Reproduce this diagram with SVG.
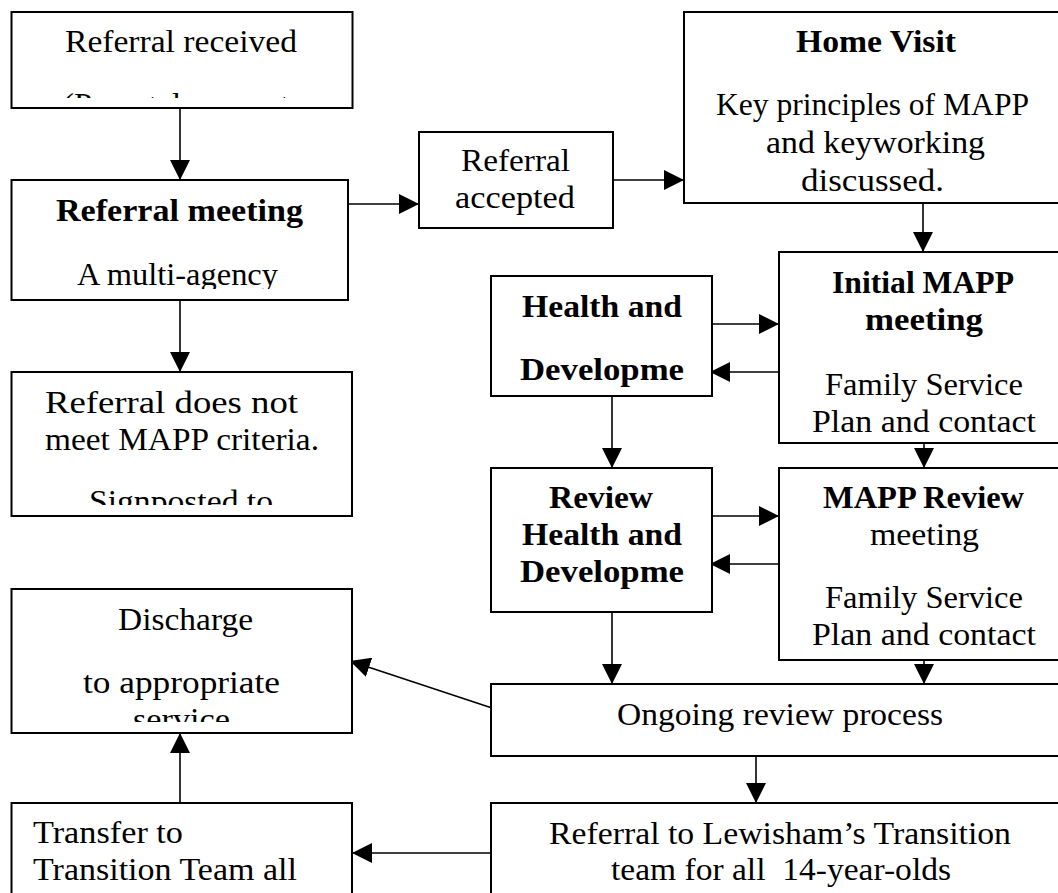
<svg xmlns="http://www.w3.org/2000/svg" width="1058" height="893" viewBox="0 0 1058 893">
<style>
.box{fill:#fff;stroke:#000;stroke-width:2}
.t{font-family:"Liberation Serif","Times New Roman",serif;font-size:31px;fill:#000}
.b{font-weight:bold}
.c{stroke:#000;stroke-width:1.6;fill:none;marker-end:url(#ah)}
</style>
<defs>
<marker id="ah" markerUnits="userSpaceOnUse" markerWidth="20" markerHeight="20" refX="20" refY="10" orient="auto">
<path d="M0,0 L20,10 L0,20 z" fill="#000"/>
</marker>
<clipPath id="c1"><rect x="12" y="12" width="340" height="86"/></clipPath>
<clipPath id="c2"><rect x="12" y="180" width="336" height="109"/></clipPath>
<clipPath id="c3"><rect x="12" y="372" width="340" height="133"/></clipPath>
<clipPath id="c4"><rect x="12" y="589" width="340" height="133"/></clipPath>
</defs>
<g id="connectors">
<line class="c" x1="180" y1="108" x2="180" y2="180"/>
<line class="c" x1="180" y1="300" x2="180" y2="372"/>
<line class="c" x1="348" y1="204" x2="419" y2="204"/>
<line class="c" x1="613" y1="180" x2="684" y2="180"/>
<line class="c" x1="923" y1="203" x2="923" y2="252"/>
<line class="c" x1="708" y1="324" x2="779" y2="324"/>
<line class="c" x1="779" y1="372" x2="710" y2="372"/>
<line class="c" x1="612" y1="396" x2="612" y2="468"/>
<line class="c" x1="924" y1="443" x2="924" y2="468"/>
<line class="c" x1="708" y1="516" x2="779" y2="516"/>
<line class="c" x1="779" y1="564" x2="710" y2="564"/>
<line class="c" x1="612" y1="612" x2="612" y2="684"/>
<line class="c" x1="924" y1="660" x2="924" y2="684"/>
<line class="c" x1="492" y1="708" x2="350" y2="661"/>
<line class="c" x1="756" y1="756" x2="756" y2="803"/>
<line class="c" x1="491" y1="853" x2="352" y2="853"/>
<line class="c" x1="180" y1="803" x2="180" y2="733"/>
</g>
<g id="referral-received">
<rect class="box" x="11.5" y="12" width="341" height="96"/>
<text class="t" x="65" y="52" textLength="232" lengthAdjust="spacingAndGlyphs">Referral received</text>
<text class="t" x="63" y="115" textLength="226" lengthAdjust="spacingAndGlyphs" clip-path="url(#c1)">(Parental consent</text>
</g>
<g id="referral-meeting">
<rect class="box" x="11.5" y="180" width="336.5" height="120"/>
<text class="t b" x="56" y="221" textLength="247" lengthAdjust="spacingAndGlyphs">Referral meeting</text>
<text class="t" x="77" y="285" textLength="201" lengthAdjust="spacingAndGlyphs" clip-path="url(#c2)">A multi-agency</text>
</g>
<g id="not-meet">
<rect class="box" x="11.5" y="372" width="340.5" height="144"/>
<text class="t" x="45" y="413" textLength="253" lengthAdjust="spacingAndGlyphs">Referral does not</text>
<text class="t" x="45" y="450" textLength="274" lengthAdjust="spacingAndGlyphs">meet MAPP criteria.</text>
<text class="t" x="89" y="512" textLength="184" lengthAdjust="spacingAndGlyphs" clip-path="url(#c3)">Signposted to</text>
</g>
<g id="referral-accepted">
<rect class="box" x="419" y="132" width="194" height="96"/>
<text class="t" x="461" y="171" textLength="109" lengthAdjust="spacingAndGlyphs">Referral</text>
<text class="t" x="455" y="208" textLength="120" lengthAdjust="spacingAndGlyphs">accepted</text>
</g>
<g id="home-visit">
<rect class="box" x="684" y="12" width="386" height="191"/>
<text class="t b" x="796" y="52" textLength="160" lengthAdjust="spacingAndGlyphs">Home Visit</text>
<text class="t" x="716" y="115" textLength="313" lengthAdjust="spacingAndGlyphs">Key principles of MAPP</text>
<text class="t" x="766" y="153" textLength="219" lengthAdjust="spacingAndGlyphs">and keyworking</text>
<text class="t" x="801" y="191" textLength="143" lengthAdjust="spacingAndGlyphs">discussed.</text>
</g>
<g id="health-dev">
<rect class="box" x="491" y="276" width="221" height="120"/>
<text class="t b" x="522" y="317" textLength="160" lengthAdjust="spacingAndGlyphs">Health and</text>
<text class="t b" x="520" y="380" textLength="164" lengthAdjust="spacingAndGlyphs">Developme</text>
</g>
<g id="initial-mapp">
<rect class="box" x="779" y="252" width="291" height="191"/>
<text class="t b" x="832" y="293" textLength="182" lengthAdjust="spacingAndGlyphs">Initial MAPP</text>
<text class="t b" x="865" y="330" textLength="118" lengthAdjust="spacingAndGlyphs">meeting</text>
<text class="t" x="825" y="395" textLength="198" lengthAdjust="spacingAndGlyphs">Family Service</text>
<text class="t" x="812" y="432" textLength="224" lengthAdjust="spacingAndGlyphs">Plan and contact</text>
</g>
<g id="review-health">
<rect class="box" x="491" y="468" width="221" height="144"/>
<text class="t b" x="549" y="508" textLength="104" lengthAdjust="spacingAndGlyphs">Review</text>
<text class="t b" x="522" y="545" textLength="160" lengthAdjust="spacingAndGlyphs">Health and</text>
<text class="t b" x="520" y="582" textLength="164" lengthAdjust="spacingAndGlyphs">Developme</text>
</g>
<g id="mapp-review">
<rect class="box" x="779" y="468" width="291" height="192"/>
<text class="t b" x="823" y="508" textLength="201" lengthAdjust="spacingAndGlyphs">MAPP Review</text>
<text class="t" x="870" y="545" textLength="109" lengthAdjust="spacingAndGlyphs">meeting</text>
<text class="t" x="825" y="608" textLength="198" lengthAdjust="spacingAndGlyphs">Family Service</text>
<text class="t" x="812" y="645" textLength="224" lengthAdjust="spacingAndGlyphs">Plan and contact</text>
</g>
<g id="ongoing">
<rect class="box" x="491" y="684" width="579" height="72"/>
<text class="t" x="617" y="725" textLength="326" lengthAdjust="spacingAndGlyphs">Ongoing review process</text>
</g>
<g id="discharge">
<rect class="box" x="11.5" y="589" width="340.5" height="144"/>
<text class="t" x="118" y="630" textLength="135" lengthAdjust="spacingAndGlyphs">Discharge</text>
<text class="t" x="83" y="693" textLength="197" lengthAdjust="spacingAndGlyphs">to appropriate</text>
<text class="t" x="133" y="730" textLength="97" lengthAdjust="spacingAndGlyphs" clip-path="url(#c4)">service</text>
</g>
<g id="transfer">
<rect class="box" x="11.5" y="803" width="340.5" height="120"/>
<text class="t" x="33" y="843" textLength="150" lengthAdjust="spacingAndGlyphs">Transfer to</text>
<text class="t" x="33" y="880" textLength="264" lengthAdjust="spacingAndGlyphs">Transition Team all</text>
</g>
<g id="lewisham">
<rect class="box" x="491" y="803" width="579" height="120"/>
<text class="t" x="549" y="844" textLength="462" lengthAdjust="spacingAndGlyphs">Referral to Lewisham’s Transition</text>
<text class="t" x="611" y="880" textLength="340" lengthAdjust="spacingAndGlyphs" style="white-space:pre">team for all  14-year-olds</text>
</g>
</svg>
